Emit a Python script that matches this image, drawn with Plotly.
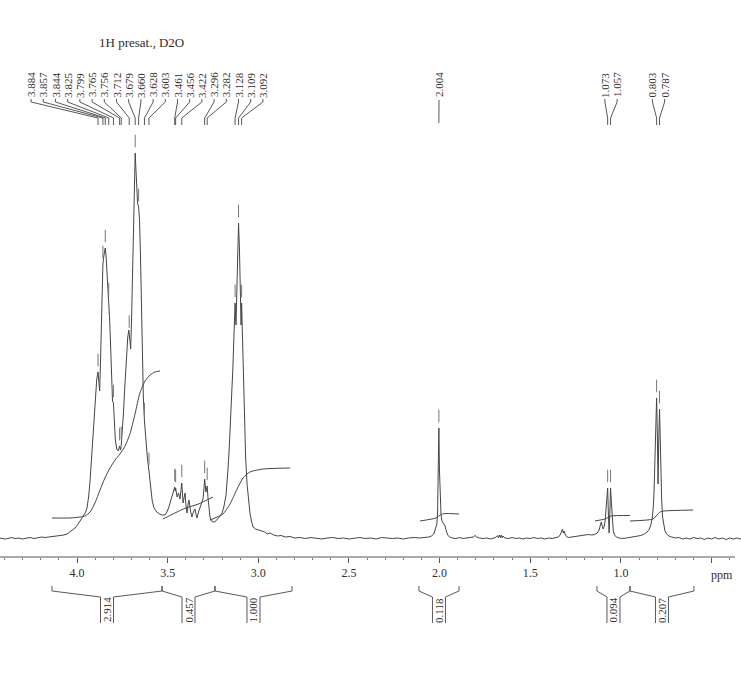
import numpy as np
import plotly.graph_objects as go

# ---------------- data ----------------
# 1H spectrum trace: chemical shift (ppm) and relative intensity
spec_ppm = [4.425, 4.400, 4.381, 4.360, 4.342, 4.320, 4.303, 4.280, 4.259, 4.237, 4.215, 4.196, 4.177, 4.158,
            4.138, 4.120, 4.105, 4.088, 4.072, 4.055, 4.039, 4.025, 4.011, 3.997, 3.983, 3.970, 3.961, 3.952,
            3.945, 3.936, 3.928, 3.920, 3.912, 3.904, 3.898, 3.891, 3.884, 3.879, 3.875, 3.870, 3.865, 3.860,
            3.857, 3.853, 3.849, 3.844, 3.840, 3.836, 3.830, 3.825, 3.820, 3.815, 3.809, 3.804, 3.799, 3.794,
            3.789, 3.781, 3.772, 3.765, 3.760, 3.756, 3.750, 3.744, 3.737, 3.728, 3.720, 3.714, 3.709, 3.704,
            3.699, 3.694, 3.690, 3.685, 3.679, 3.675, 3.670, 3.666, 3.660, 3.655, 3.650, 3.645, 3.640, 3.634,
            3.628, 3.620, 3.612, 3.603, 3.595, 3.585, 3.575, 3.560, 3.545, 3.530, 3.515, 3.504, 3.495, 3.487,
            3.476, 3.468, 3.461, 3.458, 3.456, 3.448, 3.440, 3.432, 3.426, 3.422, 3.415, 3.409, 3.404, 3.398,
            3.393, 3.387, 3.382, 3.374, 3.366, 3.358, 3.349, 3.344, 3.338, 3.330, 3.322, 3.313, 3.305, 3.300,
            3.296, 3.289, 3.282, 3.277, 3.272, 3.266, 3.258, 3.250, 3.240, 3.228, 3.215, 3.200, 3.190, 3.178,
            3.172, 3.167, 3.160, 3.153, 3.146, 3.140, 3.134, 3.128, 3.123, 3.119, 3.114, 3.109, 3.104, 3.099,
            3.095, 3.092, 3.087, 3.081, 3.076, 3.070, 3.062, 3.054, 3.046, 3.038, 3.029, 3.015, 3.000, 2.985,
            2.965, 2.950, 2.935, 2.915, 2.895, 2.875, 2.850, 2.825, 2.800, 2.770, 2.740, 2.710, 2.680, 2.650,
            2.620, 2.590, 2.560, 2.530, 2.500, 2.470, 2.440, 2.410, 2.380, 2.350, 2.320, 2.290, 2.260, 2.230,
            2.200, 2.170, 2.140, 2.110, 2.080, 2.060, 2.045, 2.032, 2.025, 2.019, 2.015, 2.011, 2.008, 2.004,
            2.001, 1.997, 1.992, 1.987, 1.981, 1.975, 1.970, 1.963, 1.955, 1.945, 1.930, 1.910, 1.890, 1.870,
            1.850, 1.830, 1.815, 1.805, 1.795, 1.780, 1.760, 1.740, 1.720, 1.700, 1.688, 1.680, 1.675, 1.670,
            1.665, 1.660, 1.655, 1.650, 1.640, 1.620, 1.600, 1.580, 1.560, 1.540, 1.520, 1.500, 1.480, 1.460,
            1.440, 1.420, 1.400, 1.380, 1.360, 1.345, 1.335, 1.328, 1.322, 1.318, 1.313, 1.308, 1.300, 1.290,
            1.275, 1.260, 1.240, 1.220, 1.200, 1.180, 1.160, 1.145, 1.130, 1.120, 1.113, 1.108, 1.103, 1.098,
            1.093, 1.087, 1.082, 1.077, 1.073, 1.069, 1.065, 1.061, 1.057, 1.053, 1.048, 1.042, 1.035, 1.025,
            1.010, 0.990, 0.970, 0.950, 0.930, 0.910, 0.890, 0.870, 0.855, 0.843, 0.835, 0.828, 0.822, 0.817,
            0.812, 0.807, 0.803, 0.799, 0.795, 0.791, 0.787, 0.783, 0.779, 0.775, 0.770, 0.764, 0.757, 0.748,
            0.735, 0.720, 0.700, 0.680, 0.660, 0.640, 0.620, 0.600, 0.580, 0.560, 0.540, 0.520, 0.500, 0.480,
            0.460, 0.440, 0.420, 0.400, 0.380, 0.360, 0.338]
spec_int = [1, 0, 0.5, 1.5, 0.5, 1, 0, 1, 1.5, 0.5, 1, 2, 1.5, 2,
            2, 2.5, 3, 3.5, 4, 5, 7, 9, 11, 14, 18, 21, 24, 27,
            31, 42, 58, 78, 98, 122, 142, 160, 167, 158, 148, 180, 225, 262,
            275, 282, 285, 291, 284, 272, 250, 238, 220, 195, 150, 138, 136, 118,
            100, 90, 88, 93, 89, 94, 106, 125, 150, 183, 202, 209, 200, 190,
            220, 260, 305, 350, 386, 370, 348, 336, 332, 318, 285, 238, 180, 142,
            118, 98, 82, 68, 52, 38, 31, 27, 25, 24, 24, 27, 31, 36,
            44, 49, 52, 48, 51, 42, 46, 40, 48, 56, 36, 44, 46, 32,
            26, 35, 39, 28, 22, 27, 30, 25, 21, 27, 32, 36, 40, 50,
            60, 47, 53, 40, 30, 22, 18, 17, 17, 19, 22, 26, 32, 44,
            55, 70, 92, 118, 145, 172, 205, 236, 214, 250, 290, 316, 290, 250,
            214, 236, 205, 150, 112, 82, 55, 38, 26, 18, 12, 10, 9, 8,
            7, 5, 6, 4, 3, 3.5, 2, 2.5, 1, 1.5, 0.5, 1.5, 1, 0,
            1, 1.5, 0.5, 1, 0, 1, 1.5, 0.5, 1, 0, 1.5, 1, 0.5, 1,
            0, 1, 1.5, 1, 1.5, 2, 3, 5, 9, 13, 15, 28, 55, 111,
            70, 38, 24, 18, 16, 14, 13, 8, 4, 2, 1, 0.5, 1.5, 0.5,
            1, 1.5, 2, 3.5, 2, 1, 0.5, 1, 0, 1, 2, 3.5, 1, 4,
            1.5, 4, 1, 3, 1, 0.5, 1.5, 0.5, 1, 0, 1, 0.5, 1.5, 0.5,
            1, 0, 1, 0.5, 1.5, 2, 4, 8, 10, 6, 8, 5, 2.5, 1.5,
            2, 2, 3, 3.5, 4, 4.5, 4, 4.5, 6, 9, 14, 17, 13, 10,
            12, 18, 30, 45, 51, 25, 6, 25, 51, 38, 18, 8, 4, 2,
            1, 0.5, 1, 1.5, 2, 2.5, 3.5, 5, 7, 10, 14, 20, 30, 48,
            80, 118, 141, 105, 55, 100, 130, 100, 62, 38, 22, 13, 8, 5,
            3, 2, 1, 1.5, 0, 1, 0, 1.5, 0.5, 1, -0.5, 1, 0, 1.5,
            0, 1, -0.5, 1, 0, 1, 0]

# picked peaks (ppm) and the label group each belongs to
peak_ppm = [3.884, 3.857, 3.844, 3.825, 3.799, 3.765, 3.756, 3.712, 3.679, 3.660,
            3.628, 3.603, 3.461, 3.456, 3.422, 3.296, 3.282, 3.128, 3.109, 3.092,
            2.004, 1.073, 1.057, 0.803, 0.787]
peak_group = [0] * 20 + [1] + [2, 2] + [3, 3]

# integral curves (ppm, running integral height)
int1_ppm = [4.138, 4.039, 3.983, 3.956, 3.928, 3.901, 3.873, 3.846, 3.818, 3.790, 3.763, 3.735,
            3.708, 3.680, 3.653, 3.625, 3.597, 3.570, 3.542]
int1_val = [21, 21, 22, 23, 27, 36, 49, 61, 71, 79, 85, 93, 105, 125, 146, 158, 164, 167, 168]
int2_ppm = [3.526, 3.460, 3.400, 3.330, 3.250]
int2_val = [20, 26, 31, 35, 42]
int3_ppm = [3.266, 3.195, 3.156, 3.117, 3.084, 3.046, 2.974, 2.825]
int3_val = [19, 25, 35, 50, 61, 67, 70, 71]
int4_ppm = [2.108, 2.020, 2.004, 1.985, 1.959, 1.893]
int4_val = [18, 21, 23, 25, 25.5, 25]
int5_ppm = [1.143, 1.088, 1.071, 1.055, 0.950]
int5_val = [18, 20, 21.5, 23, 23.5]
int6_ppm = [0.950, 0.823, 0.801, 0.784, 0.762, 0.602]
int6_val = [18, 20, 24, 27, 28, 29]

# integration regions and values
integral_start = [4.138, 3.531, 3.239, 2.114, 1.132, 0.950]
integral_end = [3.531, 3.239, 2.814, 1.893, 0.950, 0.597]
integral_value = [2.914, 0.457, 1.000, 0.118, 0.094, 0.207]

tick_ppm = [4.0, 3.5, 3.0, 2.5, 2.0, 1.5, 1.0, 0.5]
tick_text = ["4.0", "3.5", "3.0", "2.5", "2.0", "1.5", "1.0", ""]

title_text = "1H presat., D2O"
unit_text = "ppm"

# ---------------- layout helpers ----------------
W, H = 741, 684
X_LEFT = 4.4247
PX_PER_PPM = 181.3
BASE_PY = 539
X_RIGHT = X_LEFT - W / PX_PER_PPM


def px2ppm(px):
    return X_LEFT - px / PX_PER_PPM


def py2h(py):
    return BASE_PY - py


LINE = "#454545"
TEXT = "#2e2e2e"
SERIF = "Liberation Serif, Times New Roman, serif"

fig = go.Figure()

# spectrum
fig.add_trace(go.Scatter(x=spec_ppm, y=spec_int, mode="lines",
                         line=dict(color=LINE, width=1), hoverinfo="skip"))

# integral curves
for ip, iv in [(int1_ppm, int1_val), (int2_ppm, int2_val), (int3_ppm, int3_val),
               (int4_ppm, int4_val), (int5_ppm, int5_val), (int6_ppm, int6_val)]:
    fig.add_trace(go.Scatter(x=ip, y=iv, mode="lines", line=dict(color=LINE, width=1, shape="spline", smoothing=0.6),
                             hoverinfo="skip"))

# peak pick markers above each picked peak
asc_ppm = spec_ppm[::-1]
asc_int = spec_int[::-1]
peak_h = [float(np.interp(p, asc_ppm, asc_int)) for p in peak_ppm]
fig.add_trace(go.Scatter(x=peak_ppm, y=[h + 12 for h in peak_h], mode="markers",
                         marker=dict(symbol="line-ns", size=9, line=dict(color="#777", width=1)),
                         hoverinfo="skip"))

# peak labels and connector lines
group_center_px = [147, 439, 611, 658.5]
label_step_px = 12.2
cx, cy = [], []
annotations = []
for g in range(len(group_center_px)):
    members = [i for i, gg in enumerate(peak_group) if gg == g]
    n = len(members)
    for k, i in enumerate(members):
        lpx = group_center_px[g] + (k - (n - 1) / 2) * label_step_px
        lx = px2ppm(lpx)
        p = peak_ppm[i]
        if n == 1:
            cx += [lx, p, None]
            cy += [py2h(100), py2h(123), None]
        else:
            cx += [lx, lx, p, p, None]
            cy += [py2h(99), py2h(102), py2h(118), py2h(125), None]
        annotations.append(dict(x=lx, y=py2h(85), xref="x", yref="y", text=f"{p:.3f}",
                                textangle=-90, showarrow=False,
                                font=dict(family=SERIF, size=11, color=TEXT)))
fig.add_trace(go.Scatter(x=cx, y=cy, mode="lines", line=dict(color=LINE, width=0.9), hoverinfo="skip"))

# integral brackets under the axis
half = 6.5 / PX_PER_PPM
bx, by = [], []
for s, e, v in zip(integral_start, integral_end, integral_value):
    c = (s + e) / 2
    bx += [s, s, c + half, c + half, None, c - half, c - half, e, e, None]
    by += [py2h(586), py2h(591), py2h(597), py2h(623), None,
           py2h(623), py2h(597), py2h(591), py2h(586), None]
    annotations.append(dict(x=c, y=py2h(610), xref="x", yref="y", text=f"{v:.3f}",
                            textangle=-90, showarrow=False,
                            font=dict(family=SERIF, size=11, color=TEXT)))
fig.add_trace(go.Scatter(x=bx, y=by, mode="lines", line=dict(color=LINE, width=0.9), hoverinfo="skip"))

# axis line
fig.add_shape(type="line", xref="x", yref="y", x0=X_LEFT, x1=px2ppm(735), y0=py2h(557), y1=py2h(557),
              line=dict(color="#555", width=1))

annotations.append(dict(x=px2ppm(141), y=py2h(42), xref="x", yref="y", text=title_text, showarrow=False,
                        font=dict(family=SERIF, size=13, color=TEXT)))
annotations.append(dict(x=px2ppm(722), y=py2h(575), xref="x", yref="y", text=unit_text, showarrow=False,
                        font=dict(family=SERIF, size=12, color=TEXT)))

fig.update_layout(
    width=W, height=H,
    margin=dict(l=0, r=0, t=0, b=0, autoexpand=False),
    paper_bgcolor="white", plot_bgcolor="white",
    showlegend=False,
    hovermode=False,
    annotations=annotations,
    xaxis=dict(range=[X_LEFT, X_RIGHT], anchor="free", position=(H - 557) / H, side="bottom",
               showline=False, showgrid=False, zeroline=False,
               tickmode="array", tickvals=tick_ppm, ticktext=tick_text,
               ticks="outside", ticklen=5, tickwidth=1, tickcolor="#555",
               tickfont=dict(family=SERIF, size=12, color=TEXT),
               minor=dict(dtick=0.1, tick0=0, ticks="outside", ticklen=2, tickcolor="#777", showgrid=False),
               fixedrange=True),
    yaxis=dict(range=[BASE_PY - H, BASE_PY], visible=False, fixedrange=True),
)

fig.write_html("out.html", config={"displayModeBar": False, "staticPlot": True},
               post_script="document.body.style.margin='0';document.body.style.overflow='hidden';")
